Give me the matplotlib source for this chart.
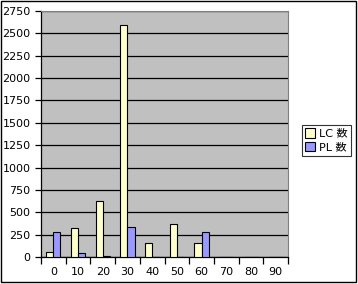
import numpy as np
import matplotlib.pyplot as plt
from matplotlib.patches import Rectangle

plt.rcParams['font.family'] = ['DejaVu Sans', 'Noto Sans CJK JP']

# data
categories = ['0', '10', '20', '30', '40', '50', '60', '70', '80', '90']
lc_counts = [60, 320, 622, 2593, 153, 366, 153, 0, 0, 0]
pl_counts = [276, 41, 6, 332, 0, 0, 276, 0, 0, 0]
series_names = ['LC 数', 'PL 数']

W, H = 358, 284
fig = plt.figure(figsize=(W / 100, H / 100), dpi=100)
ax = fig.add_axes([41 / W, (H - 257) / H, 247 / W, 246 / H])
ax.set_facecolor('#C0C0C0')

x = np.arange(len(categories))
w = 1 / 3.5
ax.bar(x - w / 2, lc_counts, w, color='#FFFFCC', edgecolor='black', linewidth=0.8,
       label=series_names[0], zorder=3)
ax.bar(x + w / 2, pl_counts, w, color='#9999FF', edgecolor='black', linewidth=0.8,
       label=series_names[1], zorder=3)

ax.set_xlim(-0.5, len(categories) - 0.5)
ax.set_ylim(0, 2750)
ax.set_yticks(np.arange(0, 2751, 250))
ax.yaxis.grid(True, color='black', linewidth=0.9, zorder=1)
ax.set_axisbelow(True)

ax.set_xticks(x)
ax.set_xticklabels(categories)
ax.set_xticks(np.arange(-0.5, len(categories), 1), minor=True)
ax.tick_params(axis='x', which='major', length=0, pad=7, labelsize=8)
ax.tick_params(axis='x', which='minor', length=5, width=0.9, direction='out')
ax.tick_params(axis='y', length=4, width=0.9, direction='out', labelsize=8)

for side in ['top', 'right']:
    ax.spines[side].set_color('#808080')
    ax.spines[side].set_linewidth(0.8)
ax.spines['left'].set_linewidth(0.9)
ax.spines['bottom'].set_linewidth(0.9)

leg = fig.legend(loc='upper left', bbox_to_anchor=(302 / W, 1 - 125 / H),
                 fontsize=8, frameon=True, fancybox=False, handlelength=0.9,
                 handleheight=0.9, handletextpad=0.3, borderpad=0.3,
                 labelspacing=0.3, borderaxespad=0)
leg.get_frame().set_edgecolor('black')
leg.get_frame().set_linewidth(0.8)

fig.patches.append(Rectangle((1 / W, 2 / H), (W - 3) / W, (H - 3) / H,
                             transform=fig.transFigure, fill=False,
                             edgecolor='black', linewidth=1))

fig.savefig('out.png', dpi=100)
